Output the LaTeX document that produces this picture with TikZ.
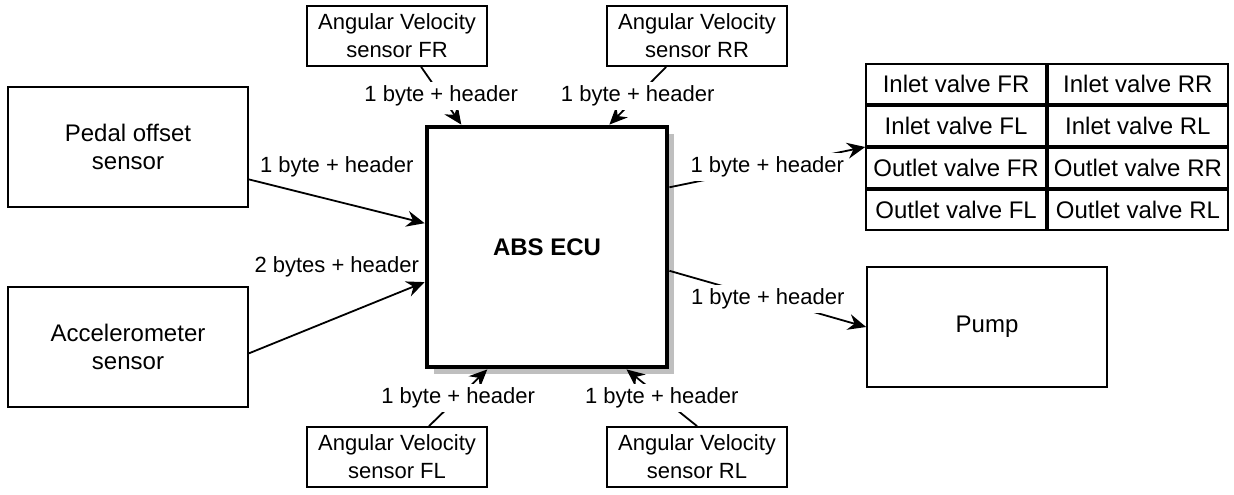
\documentclass[tikz,border=0pt]{standalone}
\usepackage{fontspec}
\setmainfont{Liberation Sans}
\usetikzlibrary{arrows.meta,positioning,shadows,matrix}

\begin{document}
\begin{tikzpicture}[
    x=0.5pt, y=-0.5pt,
    node distance=150pt,
    every node/.style={font=\fontsize{11}{14}\selectfont},
    block/.style={
      rectangle,
      draw,
      fill=white,
      line width=0.9pt,
      align=center,
      minimum width=120pt,
      minimum height=60pt,
      font=\fontsize{12}{14}\selectfont
    },
    sensor/.style={
      block,
      minimum width=90pt,
      minimum height=30pt,
      inner sep=1pt,
      font=\fontsize{11}{14}\selectfont
    },
    ecu/.style={
      block,
      line width=2.4pt,
      minimum height=120pt,
      font=\fontsize{12}{14}\selectfont\bfseries,
      drop shadow={shadow xshift=3.5pt, shadow yshift=-3.5pt, fill=black!25, opacity=1}
    },
    cell/.style={
      draw,
      line width=0.9pt,
      minimum width=90pt,
      minimum height=20pt,
      inner sep=0pt,
      outer sep=0pt,
      font=\fontsize{12}{14}\selectfont
    },
    line/.style={draw, -{Stealth[length=9pt, width=8pt, inset=3pt]}, line width=0.9pt},
    lbl/.style={fill=white, inner sep=2pt},
]
    \useasboundingbox (0,0) rectangle (1234,494);

    \node [ecu] (ecu) at (547,247) {ABS ECU};

    \node [block] (pedal) at (128,147) {Pedal offset\\ sensor};
    \node [block, below of=pedal, node distance=100pt] (accel) {Accelerometer\\ sensor};

    \node [sensor] (fr) at (397,36) {Angular Velocity\\ sensor FR};
    \node [sensor, right of=fr] (rr) {Angular Velocity\\ sensor RR};
    \node [sensor, below of=fr, node distance=210.5pt] (fl) {Angular Velocity\\ sensor FL};
    \node [sensor, right of=fl] (rl) {Angular Velocity\\ sensor RL};

    \matrix (valves) [matrix of nodes, inner sep=0pt, outer sep=0pt, nodes={cell}] at (1047,147) {
      Inlet valve FR  & Inlet valve RR  \\
      Inlet valve FL  & Inlet valve RL  \\
      Outlet valve FR & Outlet valve RR \\
      Outlet valve FL & Outlet valve RL \\
    };

    \node [block] (pump) at (987,327) {Pump};

    \path [line] (pedal.-15.4) -- node [yshift=17pt] {1 byte + header} (ecu.169.6);
    \path [line] (accel.-3.8) -- node [yshift=25.4pt] {2 bytes + header} (ecu.-164.6);
    \path [line] (fr.-52.5) -- node [lbl] {1 byte + header} (ecu.125.9);
    \path [line] (rr.-135) -- node [lbl] {1 byte + header} (ecu.63.06);
    \path [line] (fl.44.1) -- node [lbl] {1 byte + header} (ecu.-116.6);
    \path [line] (rl.north) -- node [lbl] {1 byte + header} (ecu.-57);
    \path [line] (ecu.26.6) -- node [lbl] {1 byte + header} (valves.west);
    \path [line] (ecu.-11.8) -- node [lbl] {1 byte + header} (pump.west);

\end{tikzpicture}
\end{document}
